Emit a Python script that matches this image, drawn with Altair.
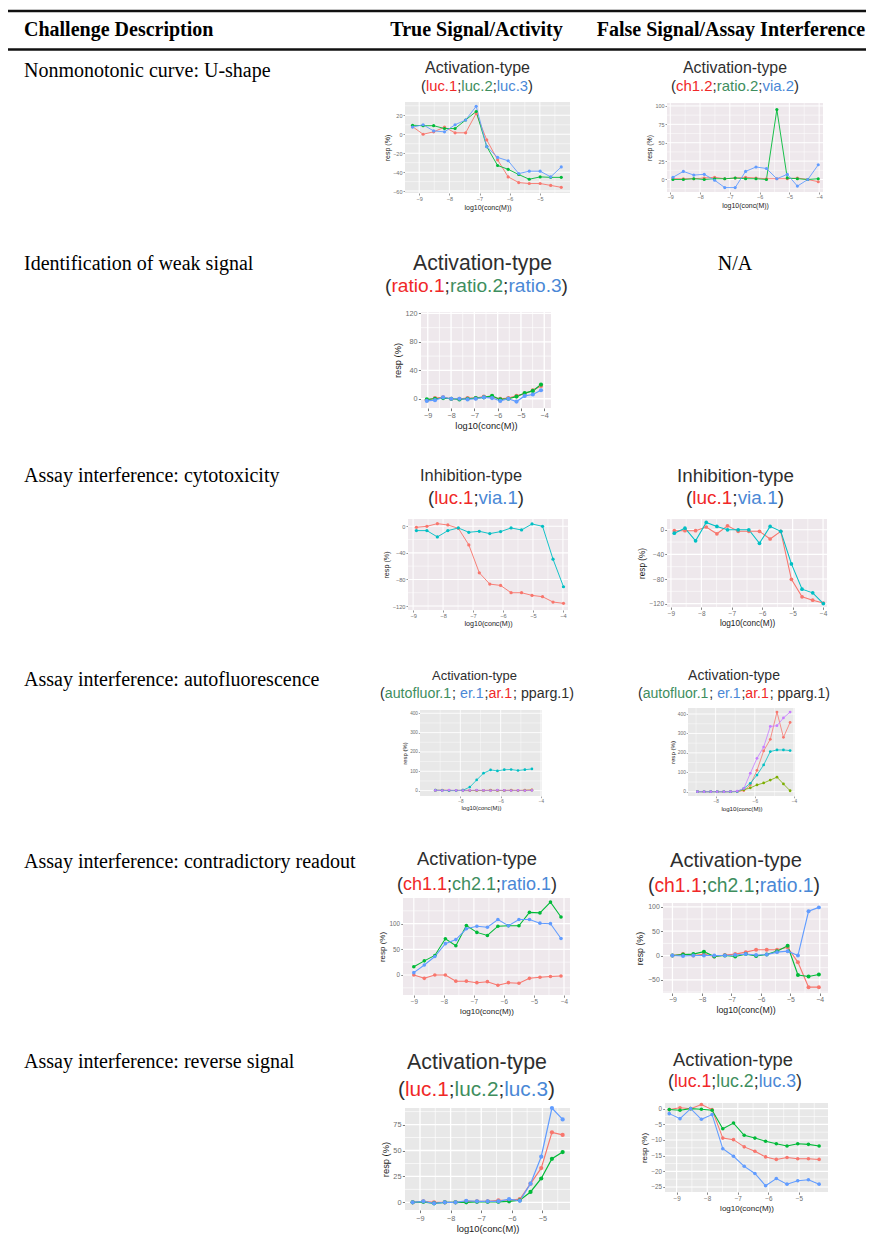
import altair as alt
import pandas as pd

# ---------------- table text ----------------
HEADERS = ["Challenge Description", "True Signal/Activity", "False Signal/Assay Interference"]
DESCRIPTIONS = [
    "Nonmonotonic curve: U-shape",
    "Identification of weak signal",
    "Assay interference: cytotoxicity",
    "Assay interference: autofluorescence",
    "Assay interference: contradictory readout",
    "Assay interference: reverse signal",
]
NA_TEXT = "N/A"

# ---------------- series ----------------
U_TRUE_X = [-9.22, -8.87, -8.52, -8.16, -7.81, -7.46, -7.11, -6.76, -6.40, -6.05, -5.70, -5.35, -4.99, -4.64, -4.29]
U_TRUE_LUC1 = [8, 0, 2.5, 7.5, 1.5, 1.5, 22, -6, -27, -45, -51, -52, -52, -54, -56]
U_TRUE_LUC2 = [9.5, 9, 9, 6, 6, 15, 24, -13, -33, -37, -42.5, -47.5, -45, -45.5, -45.5]
U_TRUE_LUC3 = [7.5, 10, 3.5, 2.5, 10, 15, 29.5, -13, -24.5, -28, -41.5, -39, -39, -45, -34.5]

U_FALSE_X = [-8.91, -8.56, -8.21, -7.86, -7.51, -7.17, -6.82, -6.47, -6.12, -5.77, -5.42, -5.07, -4.73, -4.38, -4.03]
U_FALSE_CH12 = [1, 1, 1, 2, 3, 1, 2, 3, 2, 1, 1, 1, 2, 0, -3]
U_FALSE_RATIO2 = [0, 0, 1, 0, 1, 1, 2, 1, 1, 0, 95, 2, 1, 0, 1]
U_FALSE_VIA2 = [3, 11, 6, 7, -1, -11, -11, 11, 17, 15, 1, 7, -9, 0, 20]

WEAK_X = [-9.04, -8.69, -8.34, -7.99, -7.64, -7.29, -6.94, -6.59, -6.24, -5.89, -5.54, -5.19, -4.84, -4.49, -4.14]
WEAK_RATIO1 = [-2, 1, 2, 0, 0, 1, 1, 3, 2, 0, 1, 4, 7, 12, 18]
WEAK_RATIO2 = [-1, 0, 1, 0, -1, 0, 1, 2, 4, -1, 0, 3, 8, 11, 20]
WEAK_RATIO3 = [-3, -2, 2, 0, 0, -1, 0, 2, 1, -3, 0, -4, 4, 6, 12]

CYTO_TRUE_X = [-8.89, -8.54, -8.19, -7.84, -7.49, -7.14, -6.79, -6.44, -6.08, -5.73, -5.38, -5.03, -4.68, -4.33, -3.98]
CYTO_TRUE_LUC1 = [-1.5, 0, 4, 2, -3, -28, -70, -87, -89, -100, -100, -104, -106, -114, -116]
CYTO_TRUE_VIA1 = [-6.5, -6.5, -16, -6.5, -2.5, -9, -7.5, -11, -8, -2.5, -5.5, 3.5, 0, -49.5, -91]

CYTO_FALSE_X = [-8.89, -8.54, -8.19, -7.84, -7.49, -7.14, -6.79, -6.44, -6.09, -5.74, -5.39, -5.04, -4.69, -4.34, -3.99]
CYTO_FALSE_LUC1 = [-1.5, -1.5, -1.5, 4.5, -6.5, 6.5, -2.5, -2.5, -2.5, -15, -2.5, -80.5, -109, -114.5, -119]
CYTO_FALSE_VIA1 = [-5.5, 2.5, -18, 12, 5.5, 0, 0, 0, -22, 5.5, -2.5, -55.5, -96.5, -102.5, -120]

AUTO_TRUE_X = [-9.24, -8.90, -8.56, -8.21, -7.87, -7.53, -7.19, -6.85, -6.50, -6.16, -5.82, -5.48, -5.14, -4.80, -4.45]
AUTO_TRUE_AR1 = [2, 3, 1, 0, 3, 1, 0, 1, 2, 0, 1, 2, 1, 2, 4]
AUTO_TRUE_AUTOFLUOR1 = [0, 1, 0, 1, 0, 0, 1, 0, 1, 1, 0, 1, 0, 1, 2]
AUTO_TRUE_ER1 = [2, 1, 0, 0, 2, 18, 55, 90, 107, 102, 108, 109, 104, 108, 112]
AUTO_TRUE_PPARG1 = [1, 0, 2, 1, 0, 1, 2, 1, 0, 2, 1, 0, 1, 0, 1]

AUTO_FALSE_X = [-8.93, -8.59, -8.25, -7.92, -7.58, -7.24, -6.90, -6.56, -6.23, -5.89, -5.55, -5.21, -4.87, -4.54, -4.20]
AUTO_FALSE_AR1 = [0, 0, 0, 0, 0, 0, 1, 6, 35, 110, 210, 270, 410, 280, 357]
AUTO_FALSE_AUTOFLUOR1 = [0, 0, 0, 0, 0, 0, 1, 10, 20, 35, 45, 60, 75, 40, 5]
AUTO_FALSE_ER1 = [0, 0, 0, 0, 0, 0, 1, 17, 43, 86, 138, 207, 215, 215, 212]
AUTO_FALSE_PPARG1 = [0, 0, 0, 0, 0, 1, 3, 17, 95, 172, 230, 336, 340, 380, 410]

CONTRA_TRUE_X = [-9.0, -8.65, -8.3, -7.95, -7.6, -7.25, -6.9, -6.55, -6.2, -5.85, -5.5, -5.15, -4.8, -4.45, -4.1]
CONTRA_TRUE_CH11 = [0, -6.5, 0, 0, -12, -12, -15, -13, -20, -15, -16, -6.5, -4.5, -3, -2]
CONTRA_TRUE_CH21 = [16, 27.5, 38, 70.5, 57, 96.5, 83, 77, 95, 96, 96, 122, 121, 142, 113]
CONTRA_TRUE_RATIO1 = [4.5, 19.5, 36, 61, 69, 90, 95, 93, 108, 96, 108, 108, 101, 100, 71]

CONTRA_FALSE_X = [-9.0, -8.64, -8.29, -7.93, -7.58, -7.22, -6.87, -6.51, -6.16, -5.80, -5.45, -5.09, -4.74, -4.38, -4.03]
CONTRA_FALSE_CH11 = [0, 3, 0, 3, -2, 1, 3, 7, 12, 12, 12, 17, -14, -65, -65]
CONTRA_FALSE_CH21 = [0, 2, 3, 8, -2, 0, -2, 3, -1, 2, 9, 20, -40, -43, -39]
CONTRA_FALSE_RATIO1 = [0, -1, 0, 0, 0, 0, 1, 3, 1, 2, 7, 9, 0, 91, 99]

REV_TRUE_X = [-9.24, -8.89, -8.54, -8.19, -7.84, -7.49, -7.14, -6.79, -6.44, -6.09, -5.74, -5.39, -5.04, -4.69, -4.34]
REV_TRUE_LUC1 = [0, 1, 0, 0, 0, 1, 1, 1, 2, 2, 3, 18, 33, 67.5, 65]
REV_TRUE_LUC2 = [0, 0.5, -1, 0, 0, 0, 0.5, 0.5, 0.5, 1, 2, 10, 23, 42, 48.5]
REV_TRUE_LUC3 = [0, 1, -1, 0, 0, 1.5, 1, 1, 1, 3, 1.5, 18, 44, 91, 80]

REV_FALSE_X = [-9.24, -8.89, -8.54, -8.19, -7.84, -7.49, -7.14, -6.79, -6.44, -6.09, -5.74, -5.39, -5.04, -4.69, -4.34]
REV_FALSE_LUC1 = [-0.3, 0.3, 0, 1.3, -0.3, -9.4, -9.9, -12.2, -13.6, -15.4, -16.2, -15.6, -16, -16, -16.2]
REV_FALSE_LUC2 = [-0.3, -0.5, 0, -0.2, -0.5, -6.4, -4.6, -8.5, -9.4, -10.4, -11.2, -11.9, -11.2, -11.4, -11.9]
REV_FALSE_LUC3 = [-1.6, -3.2, 0, -3.4, -1.9, -12.8, -15.2, -18.4, -20.7, -24.6, -22.3, -24.1, -23, -22.7, -24.1]

# ---------------- styling ----------------
SERIF = "Liberation Serif"
SANS = "Liberation Sans"
RED, GREEN, BLUE = "#F8766D", "#00BA38", "#619CFF"
CYAN, OLIVE, PURPLE = "#00BFC4", "#7CAE00", "#C77CFF"
T_RED, T_GREEN, T_BLUE, T_DARK = "#F02828", "#3E8E5E", "#4A88D6", "#2E2E2E"
BG_GREY, BG_PINK = "#E8E8E8", "#EEE8EC"
ORIGIN = 8
W, H = 858, 1236
HEAD_SIZE = 20
BODY_SIZE = 20

# Liberation Sans (Arial metrics) advance widths, in em
ARIAL_EM = {'a': .556, 'b': .556, 'c': .5, 'd': .556, 'e': .556, 'f': .278, 'g': .556, 'h': .556,
            'i': .222, 'l': .222, 'n': .556, 'o': .556, 'p': .556, 'r': .333, 's': .5, 't': .278,
            'u': .556, 'v': .5, 'y': .5, 'A': .667, 'I': .278, '-': .333, '(': .333, ')': .333,
            '.': .278, ';': .278, ' ': .278, '1': .556, '2': .556, '3': .556}


def em(s):
    return sum(ARIAL_EM.get(ch, .556) for ch in s)


def luc_sub(a, b, c):
    return [("(", T_DARK), (a, T_RED), (";", T_DARK), (b, T_GREEN), (";", T_DARK), (c, T_BLUE), (")", T_DARK)]


AUTO_SUB = [("(", T_DARK), ("autofluor.1", T_GREEN), ("; ", T_DARK), ("er.1", T_BLUE), (";", T_DARK),
            ("ar.1", T_RED), ("; pparg.1)", T_DARK)]
INH_SUB = [("(", T_DARK), ("luc.1", T_RED), (";", T_DARK), ("via.1", T_BLUE), (")", T_DARK)]

PLOTS = [
    dict(title="Activation-type", sub=luc_sub("luc.1", "luc.2", "luc.3"), x=U_TRUE_X,
         series=[("luc.1", U_TRUE_LUC1, RED), ("luc.2", U_TRUE_LUC2, GREEN), ("luc.3", U_TRUE_LUC3, BLUE)],
         box=(405, 102, 570, 193), xdom=(-9.47, -4.0), ydom=(-62, 34),
         xticks=[-9, -8, -7, -6, -5], yticks=[-60, -40, -20, 0, 20], bg=BG_GREY,
         tspan=(425, 530), ty=68, sspan=(421, 533), sy=87),
    dict(title="Activation-type", sub=luc_sub("ch1.2", "ratio.2", "via.2"), x=U_FALSE_X,
         series=[("ch1.2", U_FALSE_CH12, RED), ("ratio.2", U_FALSE_RATIO2, GREEN), ("via.2", U_FALSE_VIA2, BLUE)],
         box=(667, 103, 823, 192), xdom=(-9.11, -3.87), ydom=(-17, 104),
         xticks=[-9, -8, -7, -6, -5, -4], yticks=[0, 25, 50, 75, 100], bg=BG_PINK,
         tspan=(683, 787), ty=68, sspan=(671, 799), sy=87),
    dict(title="Activation-type", sub=luc_sub("ratio.1", "ratio.2", "ratio.3"), x=WEAK_X,
         series=[("ratio.1", WEAK_RATIO1, RED), ("ratio.2", WEAK_RATIO2, GREEN), ("ratio.3", WEAK_RATIO3, BLUE)],
         box=(421, 312, 551, 408), xdom=(-9.29, -3.71), ydom=(-13, 122),
         xticks=[-9, -8, -7, -6, -5, -4], yticks=[0, 40, 80, 120], bg=BG_PINK,
         tspan=(413, 552), ty=264, sspan=(385, 568), sy=286),
    dict(title="Inhibition-type", sub=INH_SUB, x=CYTO_TRUE_X,
         series=[("luc.1", CYTO_TRUE_LUC1, RED), ("via.1", CYTO_TRUE_VIA1, CYAN)],
         box=(408, 519, 568, 610), xdom=(-9.17, -3.83), ydom=(-126, 11),
         xticks=[-9, -8, -7, -6, -5, -4], yticks=[-120, -80, -40, 0], bg=BG_PINK,
         tspan=(420, 522), ty=476, sspan=(428, 524), sy=498),
    dict(title="Inhibition-type", sub=INH_SUB, x=CYTO_FALSE_X,
         series=[("luc.1", CYTO_FALSE_LUC1, RED), ("via.1", CYTO_FALSE_VIA1, CYAN)],
         box=(667, 519, 827, 607), xdom=(-9.13, -3.87), ydom=(-125.5, 17.5),
         xticks=[-9, -8, -7, -6, -5, -4], yticks=[-120, -80, -40, 0], bg=BG_PINK,
         tspan=(677, 794), ty=476, sspan=(686, 784), sy=498),
    dict(title="Activation-type", sub=AUTO_SUB, x=AUTO_TRUE_X,
         series=[("ar.1", AUTO_TRUE_AR1, RED), ("autofluor.1", AUTO_TRUE_AUTOFLUOR1, OLIVE),
                 ("er.1", AUTO_TRUE_ER1, CYAN), ("pparg.1", AUTO_TRUE_PPARG1, PURPLE)],
         box=(420, 710, 542, 796), xdom=(-10.0, -3.95), ydom=(-28, 417),
         xticks=[-8, -6, -4], yticks=[0, 100, 200, 300, 400], bg=BG_GREY,
         tspan=(432, 517), ty=676, sspan=(380, 574), sy=694),
    dict(title="Activation-type", sub=AUTO_SUB, x=AUTO_FALSE_X,
         series=[("ar.1", AUTO_FALSE_AR1, RED), ("autofluor.1", AUTO_FALSE_AUTOFLUOR1, OLIVE),
                 ("er.1", AUTO_FALSE_ER1, CYAN), ("pparg.1", AUTO_FALSE_PPARG1, PURPLE)],
         box=(688, 708, 795, 796), xdom=(-9.41, -3.95), ydom=(-22, 431),
         xticks=[-8, -6, -4], yticks=[0, 100, 200, 300, 400], bg=BG_GREY,
         tspan=(688, 780), ty=676, sspan=(638, 830), sy=694),
    dict(title="Activation-type", sub=luc_sub("ch1.1", "ch2.1", "ratio.1"), x=CONTRA_TRUE_X,
         series=[("ch1.1", CONTRA_TRUE_CH11, RED), ("ch2.1", CONTRA_TRUE_CH21, GREEN), ("ratio.1", CONTRA_TRUE_RATIO1, BLUE)],
         box=(403, 898, 570, 995), xdom=(-9.36, -3.8), ydom=(-39, 150),
         xticks=[-9, -8, -7, -6, -5, -4], yticks=[0, 50, 100], bg=BG_PINK,
         tspan=(417, 537), ty=860, sspan=(397, 557), sy=885),
    dict(title="Activation-type", sub=luc_sub("ch1.1", "ch2.1", "ratio.1"), x=CONTRA_FALSE_X,
         series=[("ch1.1", CONTRA_FALSE_CH11, RED), ("ch2.1", CONTRA_FALSE_CH21, GREEN), ("ratio.1", CONTRA_FALSE_RATIO1, BLUE)],
         box=(663, 903, 828, 993), xdom=(-9.32, -3.72), ydom=(-77, 108),
         xticks=[-9, -8, -7, -6, -5, -4], yticks=[-50, 0, 50, 100], bg=BG_PINK,
         tspan=(670, 802), ty=861, sspan=(648, 820), sy=886),
    dict(title="Activation-type", sub=luc_sub("luc.1", "luc.2", "luc.3"), x=REV_TRUE_X,
         series=[("luc.1", REV_TRUE_LUC1, RED), ("luc.2", REV_TRUE_LUC2, GREEN), ("luc.3", REV_TRUE_LUC3, BLUE)],
         box=(405, 1108, 570, 1210), xdom=(-9.49, -4.1), ydom=(-7.4, 91),
         xticks=[-9, -8, -7, -6, -5], yticks=[0, 25, 50, 75], bg=BG_GREY,
         tspan=(407, 547), ty=1063, sspan=(398, 555), sy=1090),
    dict(title="Activation-type", sub=luc_sub("luc.1", "luc.2", "luc.3"), x=REV_FALSE_X,
         series=[("luc.1", REV_FALSE_LUC1, RED), ("luc.2", REV_FALSE_LUC2, GREEN), ("luc.3", REV_FALSE_LUC3, BLUE)],
         box=(665, 1103, 828, 1192), xdom=(-9.38, -4.05), ydom=(-26.6, 1.8),
         xticks=[-9, -8, -7, -6, -5], yticks=[-25, -20, -15, -10, -5, 0], bg=BG_GREY,
         tspan=(673, 793), ty=1061, sspan=(668, 802), sy=1082),
]

ROW_TEXT_Y = [71, 264, 476, 680, 862, 1062]   # page y of each description
NA_ROW = 1


def c(v):
    """page pixel -> chart pixel"""
    return v - ORIGIN


def minor_vals(ticks, dom):
    step = ticks[1] - ticks[0]
    vals = [t + step / 2 for t in [ticks[0] - step] + list(ticks)]
    return [v for v in vals if dom[0] < v < dom[1]]


layers = []
title_rows, sub_rows = [], []

for cfg in PLOTS:
    L, T, R, B = cfg["box"]
    ts = (cfg["tspan"][1] - cfg["tspan"][0]) / em(cfg["title"])
    full = "".join(t for t, _ in cfg["sub"])
    ss = (cfg["sspan"][1] - cfg["sspan"][0]) / em(full)
    ss = max(0.9 * ts, min(1.2 * ts, ss))
    s = max(0.85, min(1.35, ts / 16.0))

    xs = alt.Scale(domain=list(cfg["xdom"]), range=[c(L), c(R)], nice=False, zero=False)
    ys = alt.Scale(domain=list(cfg["ydom"]), range=[c(B), c(T)], nice=False, zero=False)

    # panel background
    bgdf = pd.DataFrame({"x0": [cfg["xdom"][0]], "x1": [cfg["xdom"][1]],
                         "y0": [cfg["ydom"][0]], "y1": [cfg["ydom"][1]]})
    layers.append(alt.Chart(bgdf).mark_rect(color=cfg["bg"]).encode(
        x=alt.X("x0:Q", scale=xs, axis=None), x2="x1:Q",
        y=alt.Y("y0:Q", scale=ys, axis=None), y2="y1:Q"))

    # grid lines (major + minor), ggplot style
    xmaj = [v for v in cfg["xticks"] if cfg["xdom"][0] < v < cfg["xdom"][1]]
    ymaj = [v for v in cfg["yticks"] if cfg["ydom"][0] < v < cfg["ydom"][1]]
    xmin_ = minor_vals(cfg["xticks"], cfg["xdom"])
    ymin_ = minor_vals(cfg["yticks"], cfg["ydom"])
    xg = pd.DataFrame({"v": xmaj + xmin_, "w": [1.0 * s] * len(xmaj) + [0.5 * s] * len(xmin_)})
    xg["lo"], xg["hi"] = cfg["ydom"][0], cfg["ydom"][1]
    yg = pd.DataFrame({"v": ymaj + ymin_, "w": [1.0 * s] * len(ymaj) + [0.5 * s] * len(ymin_)})
    yg["lo"], yg["hi"] = cfg["xdom"][0], cfg["xdom"][1]
    layers.append(alt.Chart(xg).mark_rule(color="white").encode(
        x=alt.X("v:Q", scale=xs, axis=None), y=alt.Y("lo:Q", scale=ys, axis=None), y2="hi:Q",
        strokeWidth=alt.StrokeWidth("w:Q", scale=None)))
    layers.append(alt.Chart(yg).mark_rule(color="white").encode(
        y=alt.Y("v:Q", scale=ys, axis=None), x=alt.X("lo:Q", scale=xs, axis=None), x2="hi:Q",
        strokeWidth=alt.StrokeWidth("w:Q", scale=None)))

    # data
    recs = []
    for n, vals, col in cfg["series"]:
        for i, (xv, yv) in enumerate(zip(cfg["x"], vals)):
            recs.append({"x": xv, "y": yv, "series": n, "col": col, "k": i})
    df = pd.DataFrame(recs)
    common = dict(format="d", domain=False, grid=False, tickColor="#555555", tickSize=2 * s,
                  tickWidth=0.6 * s, labelFont=SANS, labelFontSize=5.5 * s, labelColor="#6e6e6e",
                  labelPadding=1 * s, titleFont=SANS, titleFontSize=7 * s, titleFontWeight="normal",
                  titleColor="#1a1a1a", titlePadding=2 * s, labelOverlap=False, labelFlush=False,
                  minExtent=0)
    ax_x = alt.Axis(values=cfg["xticks"], title="log10(conc(M))", orient="bottom",
                    offset=c(B) - H, **common)
    ax_y = alt.Axis(values=cfg["yticks"], title="resp (%)", orient="left",
                    offset=-c(L), **common)
    layers.append(alt.Chart(df).mark_line(
        strokeWidth=0.9 * s, point=alt.OverlayMarkDef(filled=True, size=10 * s * s, opacity=1)
    ).encode(
        x=alt.X("x:Q", scale=xs, axis=ax_x),
        y=alt.Y("y:Q", scale=ys, axis=ax_y),
        color=alt.Color("col:N", scale=None),
        detail="series:N",
        order="k:Q",
    ))

    # titles
    title_rows.append({"t": cfg["title"], "px": c((cfg["tspan"][0] + cfg["tspan"][1]) / 2),
                       "py": c(cfg["ty"]), "fs": ts})
    full_w = em(full) * ss
    xcur = c((cfg["sspan"][0] + cfg["sspan"][1]) / 2) - full_w / 2
    for seg, col in cfg["sub"]:
        sub_rows.append({"t": seg, "px": xcur, "py": c(cfg["sy"]), "fs": ss, "col": col})
        xcur += em(seg) * ss

layers.append(alt.Chart(pd.DataFrame(title_rows)).mark_text(
    font=SANS, color=T_DARK, align="center", baseline="middle").encode(
    text="t:N", x=alt.X("px:Q", scale=None, axis=None), y=alt.Y("py:Q", scale=None, axis=None),
    size=alt.Size("fs:Q", scale=None, legend=None)))
layers.append(alt.Chart(pd.DataFrame(sub_rows)).mark_text(
    font=SANS, align="left", baseline="middle").encode(
    text="t:N", x=alt.X("px:Q", scale=None, axis=None), y=alt.Y("py:Q", scale=None, axis=None),
    size=alt.Size("fs:Q", scale=None, legend=None), color=alt.Color("col:N", scale=None)))

# table rules
rules = pd.DataFrame({"py": [c(11), c(49.5)]})
layers.append(alt.Chart(rules).mark_rule(color="#111111", strokeWidth=2.5).encode(
    x=alt.value(0), x2=alt.value(W), y=alt.Y("py:Q", scale=None, axis=None)))

# header texts
hl = pd.DataFrame({"t": HEADERS[:1], "px": [c(24)], "py": [c(30)]})
hc = pd.DataFrame({"t": HEADERS[1:], "px": [c(476.5), c(731)], "py": [c(30), c(30)]})
layers.append(alt.Chart(hl).mark_text(font=SERIF, fontWeight="bold", fontSize=HEAD_SIZE, align="left",
                                      baseline="middle", color="black").encode(
    text="t:N", x=alt.X("px:Q", scale=None, axis=None), y=alt.Y("py:Q", scale=None, axis=None)))
layers.append(alt.Chart(hc).mark_text(font=SERIF, fontWeight="bold", fontSize=HEAD_SIZE, align="center",
                                      baseline="middle", color="black").encode(
    text="t:N", x=alt.X("px:Q", scale=None, axis=None), y=alt.Y("py:Q", scale=None, axis=None)))

# descriptions + N/A
dd = pd.DataFrame({"t": DESCRIPTIONS, "px": [c(24)] * len(DESCRIPTIONS), "py": [c(v) for v in ROW_TEXT_Y]})
layers.append(alt.Chart(dd).mark_text(font=SERIF, fontSize=BODY_SIZE, align="left", baseline="middle",
                                      color="black").encode(
    text="t:N", x=alt.X("px:Q", scale=None, axis=None), y=alt.Y("py:Q", scale=None, axis=None)))
na = pd.DataFrame({"t": [NA_TEXT], "px": [c(735)], "py": [c(ROW_TEXT_Y[NA_ROW])]})
layers.append(alt.Chart(na).mark_text(font=SERIF, fontSize=BODY_SIZE, align="center", baseline="middle",
                                      color="black").encode(
    text="t:N", x=alt.X("px:Q", scale=None, axis=None), y=alt.Y("py:Q", scale=None, axis=None)))

chart = alt.layer(*layers).resolve_scale(x="independent", y="independent").resolve_axis(
    x="independent", y="independent"
).properties(
    width=W, height=H, padding=0, background="white",
    autosize=alt.AutoSizeParams(type="none"),
).configure_view(stroke=None)

chart.save("out.html", embed_options={"renderer": "svg", "actions": False})
